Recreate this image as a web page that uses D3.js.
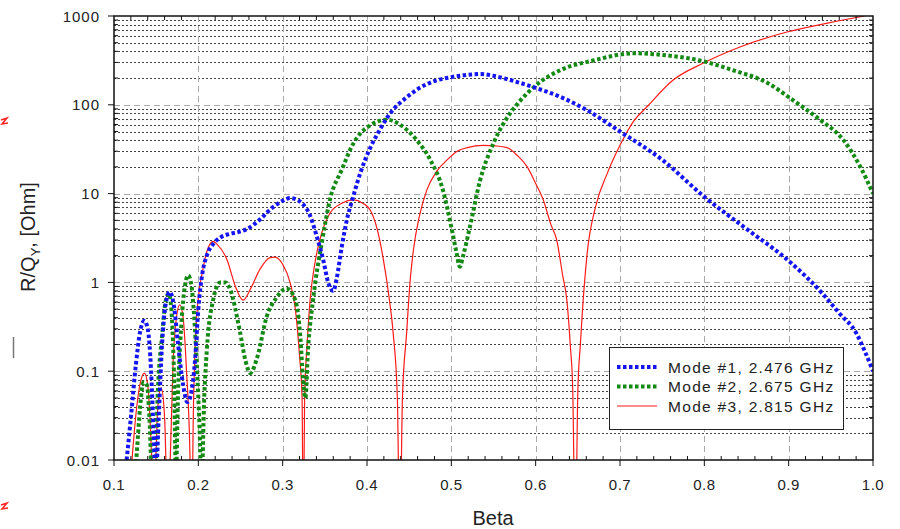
<!DOCTYPE html>
<html>
<head>
<meta charset="utf-8">
<script src="https://cdn.jsdelivr.net/npm/d3@7"></script>
<style>
  body { margin: 0; background: #fff; }
  svg { display: block; font-family: "Liberation Sans", Arial, sans-serif; }
</style>
</head>
<body>
<script>
// Mode #1, 2.476 GHz
const mode1Beta = [0.115, 0.12, 0.126, 0.131, 0.136, 0.14, 0.144, 0.147, 0.1495, 0.153, 0.157, 0.161, 0.166, 0.171, 0.176, 0.182, 0.187, 0.192, 0.196, 0.2, 0.205, 0.21, 0.2175, 0.226, 0.236, 0.248, 0.258, 0.266, 0.274, 0.282, 0.29, 0.3, 0.309, 0.316, 0.324, 0.332, 0.34, 0.348, 0.354, 0.36, 0.364, 0.37, 0.376, 0.384, 0.392, 0.404, 0.414, 0.424, 0.434, 0.444, 0.46, 0.48, 0.5, 0.52, 0.535, 0.55, 0.57, 0.6, 0.63, 0.66, 0.7, 0.75, 0.8, 0.85, 0.9, 0.94, 0.96, 0.98, 0.99, 1.0]
const mode1Val = [0.01, 0.03, 0.12, 0.28, 0.37, 0.3, 0.1, 0.02, 0.006, 0.03, 0.2, 0.55, 0.78, 0.55, 0.2, 0.07, 0.045, 0.06, 0.13, 0.5, 1.3, 2.0, 2.7, 3.2, 3.5, 3.7, 4.0, 4.5, 5.2, 6.2, 7.2, 8.3, 8.9, 8.6, 7.6, 5.8, 3.4, 1.8, 1.0, 0.8, 1.1, 2.5, 5.0, 9.5, 17, 33, 50, 72, 95, 115, 150, 185, 205, 218, 222, 212, 190, 155, 122, 88, 50, 24, 9.2, 4.0, 1.75, 0.75, 0.45, 0.27, 0.17, 0.1]

// Mode #2, 2.675 GHz
const mode2Beta = [0.124, 0.127, 0.131, 0.135, 0.139, 0.142, 0.145, 0.148, 0.152, 0.157, 0.161, 0.165, 0.168, 0.171, 0.1735, 0.176, 0.18, 0.184, 0.188, 0.192, 0.197, 0.201, 0.204, 0.207, 0.21, 0.2175, 0.226, 0.232, 0.238, 0.249, 0.256, 0.2615, 0.27, 0.281, 0.293, 0.299, 0.305, 0.315, 0.321, 0.324, 0.327, 0.33, 0.336, 0.347, 0.356, 0.37, 0.384, 0.404, 0.424, 0.44, 0.459, 0.475, 0.49, 0.5, 0.506, 0.51, 0.514, 0.522, 0.534, 0.55, 0.57, 0.582, 0.6, 0.629, 0.668, 0.716, 0.756, 0.795, 0.834, 0.875, 0.905, 0.937, 0.965, 0.985, 1.0]
const mode2Val = [0.005, 0.012, 0.04, 0.075, 0.07, 0.03, 0.006, 0.004, 0.06, 0.25, 0.6, 0.75, 0.5, 0.1, 0.007, 0.06, 0.35, 0.9, 1.2, 0.9, 0.2, 0.03, 0.006, 0.05, 0.17, 0.63, 1.0, 1.0, 0.82, 0.29, 0.13, 0.095, 0.145, 0.41, 0.68, 0.8, 0.85, 0.63, 0.24, 0.085, 0.05, 0.17, 0.63, 3.0, 8.5, 18.5, 37, 59, 68, 59, 40, 24, 11, 4.2, 2.2, 1.5, 2.0, 4.2, 14, 37, 81, 112, 165, 245, 315, 380, 360, 315, 245, 176, 113, 68, 40, 20, 10]

// Mode #3, 2.815 GHz
const mode3Beta = [0.119, 0.122, 0.127, 0.132, 0.136, 0.14, 0.143, 0.145, 0.147, 0.149, 0.152, 0.156, 0.16, 0.1625, 0.164, 0.166, 0.17, 0.174, 0.178, 0.182, 0.186, 0.19, 0.192, 0.194, 0.198, 0.206, 0.212, 0.2175, 0.222, 0.234, 0.244, 0.253, 0.262, 0.273, 0.285, 0.291, 0.3, 0.309, 0.315, 0.32, 0.323, 0.3245, 0.326, 0.329, 0.3325, 0.338, 0.344, 0.356, 0.37, 0.384, 0.395, 0.404, 0.412, 0.419, 0.426, 0.431, 0.436, 0.439, 0.442, 0.447, 0.451, 0.455, 0.462, 0.471, 0.483, 0.495, 0.507, 0.519, 0.538, 0.552, 0.566, 0.578, 0.59, 0.6, 0.609, 0.618, 0.625, 0.632, 0.637, 0.641, 0.644, 0.647, 0.65, 0.653, 0.655, 0.661, 0.671, 0.685, 0.7, 0.716, 0.732, 0.763, 0.799, 0.843, 0.898, 0.946, 0.99]
const mode3Val = [0.005, 0.012, 0.04, 0.08, 0.095, 0.07, 0.025, 0.008, 0.001, 0.006, 0.04, 0.065, 0.03, 0.004, 0.001, 0.006, 0.12, 0.4, 0.56, 0.4, 0.1, 0.012, 0.001, 0.03, 0.4, 1.5, 2.5, 2.9, 2.7, 1.8, 0.9, 0.63, 0.85, 1.4, 1.9, 1.93, 1.6, 0.98, 0.5, 0.15, 0.05, 0.001, 0.05, 0.2, 0.63, 1.6, 3.0, 6.0, 7.8, 8.5, 7.8, 6.5, 4.0, 1.9, 0.7, 0.27, 0.05, 0.001, 0.05, 0.27, 1.0, 2.3, 5.5, 11, 18, 24, 30, 33, 35, 34.5, 33, 27, 20, 13, 8.5, 4.5, 3.0, 1.2, 0.63, 0.2, 0.06, 0.001, 0.06, 0.2, 0.41, 2.1, 7.1, 17, 35, 65, 95, 190, 295, 450, 660, 830, 1000]

const xTicks = [0.1, 0.2, 0.3, 0.4, 0.5, 0.6, 0.7, 0.8, 0.9, 1.0]
const yTicks = [0.01, 0.1, 1, 10, 100, 1000]
const yTickLabels = ["0.01", "0.1", "1", "10", "100", "1000"]
const legendLabels = ["Mode #1, 2.476 GHz", "Mode #2, 2.675 GHz", "Mode #3, 2.815 GHz"]

const w = 900
const h = 529
const pLeft = 114, pRight = 873, pTop = 16, pBottom = 460

const svg = d3.select('body')
    .append('svg')
    .attr('width', w)
    .attr('height', h)

const x = d3.scaleLinear().domain([0.1, 1.0]).range([pLeft, pRight])
const y = d3.scaleLog().domain([0.01, 1000]).range([pBottom, pTop])

svg.append('clipPath').attr('id', 'plot')
    .append('rect')
    .attr('x', pLeft).attr('y', pTop)
    .attr('width', pRight - pLeft).attr('height', pBottom - pTop)

// minor y grid (black dotted)
const minorY = []
for (let e = -2; e < 3; e++) {
    for (let k = 2; k <= 9; k++) minorY.push(k * Math.pow(10, e))
}
const minorX = d3.range(0, 46).map(i => 0.1 + i * 0.02).filter(v => Math.abs(v * 10 - Math.round(v * 10)) > 1e-6)

svg.append('g')
    .selectAll('line')
    .data(minorY)
    .enter()
    .append('line')
    .attr('x1', pLeft).attr('x2', pRight)
    .attr('y1', d => Math.round(y(d)) + 0.5)
    .attr('y2', d => Math.round(y(d)) + 0.5)
    .attr('stroke', '#222')
    .attr('stroke-dasharray', '2,2')
    .attr('opacity', 0.85)

// major grid (grey dashed)
svg.append('g')
    .selectAll('line')
    .data(xTicks.slice(1, -1))
    .enter()
    .append('line')
    .attr('x1', d => Math.round(x(d)) + 0.5).attr('x2', d => Math.round(x(d)) + 0.5)
    .attr('y1', pTop).attr('y2', pBottom)
    .attr('stroke', '#aaa')
    .attr('stroke-dasharray', '6,4')

svg.append('g')
    .selectAll('line')
    .data(yTicks.slice(1, -1))
    .enter()
    .append('line')
    .attr('x1', pLeft).attr('x2', pRight)
    .attr('y1', d => Math.round(y(d)) + 0.5).attr('y2', d => Math.round(y(d)) + 0.5)
    .attr('stroke', '#aaa')
    .attr('stroke-dasharray', '6,4')

// curves
const line = (bs, vs) => d3.line()
    .x(i => x(bs[i]))
    .y(i => y(vs[i]))
    .curve(d3.curveMonotoneX)(d3.range(bs.length))

const curves = svg.append('g').attr('clip-path', 'url(#plot)')

curves.append('path')
    .attr('d', line(mode3Beta, mode3Val))
    .attr('fill', 'none')
    .attr('stroke', '#ff1a1a')
    .attr('stroke-width', 1.2)

curves.append('path')
    .attr('d', line(mode2Beta, mode2Val))
    .attr('fill', 'none')
    .attr('stroke', '#148a14')
    .attr('stroke-width', 4)
    .attr('stroke-dasharray', '3.5,2.5')

curves.append('path')
    .attr('d', line(mode1Beta, mode1Val))
    .attr('fill', 'none')
    .attr('stroke', '#1414f5')
    .attr('stroke-width', 4)
    .attr('stroke-dasharray', '3.5,2.5')

// frame
svg.append('rect')
    .attr('x', pLeft).attr('y', pTop)
    .attr('width', pRight - pLeft).attr('height', pBottom - pTop)
    .attr('fill', 'none')
    .attr('stroke', '#111')
    .attr('stroke-width', 1.5)

// ticks
const ticks = svg.append('g').attr('stroke', '#111').attr('stroke-width', 1)
xTicks.forEach(d => {
    ticks.append('line').attr('x1', x(d)).attr('x2', x(d)).attr('y1', pBottom).attr('y2', pBottom + 6)
})
minorX.forEach(d => {
    ticks.append('line').attr('x1', x(d)).attr('x2', x(d)).attr('y1', pBottom).attr('y2', pBottom - 4)
    ticks.append('line').attr('x1', x(d)).attr('x2', x(d)).attr('y1', pTop).attr('y2', pTop + 4)
})
yTicks.forEach(d => {
    ticks.append('line').attr('x1', pLeft - 6).attr('x2', pLeft).attr('y1', y(d)).attr('y2', y(d))
})
minorY.forEach(d => {
    ticks.append('line').attr('x1', pLeft).attr('x2', pLeft + 4).attr('y1', y(d)).attr('y2', y(d))
    ticks.append('line').attr('x1', pRight - 4).attr('x2', pRight).attr('y1', y(d)).attr('y2', y(d))
})

// tick labels
svg.append('g')
    .selectAll('text')
    .data(xTicks)
    .enter()
    .append('text')
    .attr('x', d => x(d))
    .attr('y', 490)
    .attr('text-anchor', 'middle')
    .attr('font-size', 15)
    .attr('letter-spacing', 0.5)
    .attr('fill', '#222')
    .text(d3.format('.1f'))

svg.append('g')
    .selectAll('text')
    .data(yTicks)
    .enter()
    .append('text')
    .attr('x', 100)
    .attr('y', d => y(d) + 5.5)
    .attr('text-anchor', 'end')
    .attr('font-size', 15)
    .attr('letter-spacing', 1)
    .attr('fill', '#222')
    .text((d, i) => yTickLabels[i])

// axis titles
svg.append('text')
    .attr('x', 493)
    .attr('y', 525)
    .attr('text-anchor', 'middle')
    .attr('font-size', 20)
    .attr('fill', '#222')
    .text('Beta')

const yt = svg.append('text')
    .attr('transform', 'translate(35,237) rotate(-90)')
    .attr('text-anchor', 'middle')
    .attr('font-size', 20)
    .attr('fill', '#222')
yt.append('tspan').text('R/Q')
yt.append('tspan').attr('font-size', 13).attr('dy', 5).text('Y')
yt.append('tspan').attr('dy', -5).text(', [Ohm]')

// stray marks at the left edge
svg.append('line')
    .attr('x1', 13.5).attr('x2', 13.5).attr('y1', 337).attr('y2', 358)
    .attr('stroke', '#777').attr('stroke-width', 1.5)
;[122, 507].forEach(cy => {
    svg.append('path')
        .attr('d', `M1,${cy - 2} L7,${cy - 4} L2,${cy + 2} L8,${cy + 1}`)
        .attr('fill', 'none')
        .attr('stroke', '#f22')
        .attr('stroke-width', 1.5)
})

// legend
const lg = svg.append('g')
lg.append('rect')
    .attr('x', 609.5).attr('y', 347.5)
    .attr('width', 234).attr('height', 82)
    .attr('fill', '#fff')
    .attr('stroke', '#222')
    .attr('stroke-width', 1)

const legendStyle = [
    { c: '#1414f5', w: 4, dash: '3.5,2.5' },
    { c: '#148a14', w: 4, dash: '3.5,2.5' },
    { c: '#ff1a1a', w: 1.2, dash: null }
]
legendLabels.forEach((t, i) => {
    const cy = 367 + i * 19.5
    lg.append('line')
        .attr('x1', 617).attr('x2', 657)
        .attr('y1', cy).attr('y2', cy)
        .attr('stroke', legendStyle[i].c)
        .attr('stroke-width', legendStyle[i].w)
        .attr('stroke-dasharray', legendStyle[i].dash)
    lg.append('text')
        .attr('x', 668)
        .attr('y', cy + 5.5)
        .attr('font-size', 15.5)
        .attr('letter-spacing', 1.3)
        .attr('fill', '#222')
        .text(t)
})
</script>
</body>
</html>
